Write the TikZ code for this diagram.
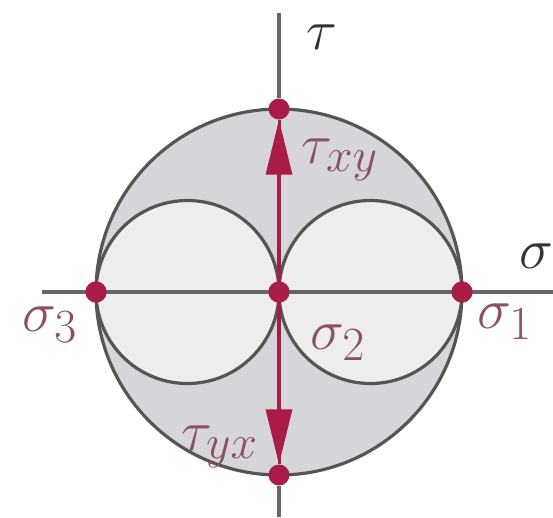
\documentclass[tikz,border=0pt]{standalone}
\usetikzlibrary{arrows.meta}
\definecolor{mred}{HTML}{A81C45}
\definecolor{mlab}{HTML}{8C5065}
\definecolor{bigfill}{HTML}{D6D6DA}
\definecolor{smallfill}{HTML}{EDEDED}
\definecolor{edgegray}{HTML}{555555}
\begin{document}
\begin{tikzpicture}[x=1pt,y=-1pt,
  dotnode/.style={circle,fill=mred,inner sep=0pt,minimum size=21pt},
  redlab/.style={text=mlab,font=\Huge,scale=2.3,inner sep=1pt},
  axlab/.style={text=black!80,font=\Huge,scale=2.3,inner sep=1pt},
  outline/.style={draw=edgegray,line width=3.2pt},
  axisline/.style={draw=gray!80!black,line width=3.2pt},
  redarrow/.style={draw=mred,line width=3.4pt,-{Triangle[length=55pt,width=26pt]}}]
\useasboundingbox (0,0) rectangle (553,517);
% circles
\fill[bigfill] (279,292) circle (183);
\draw[outline] (279,292) circle (183);
\draw[outline,fill=smallfill] (187.5,292) circle (91.5);
\draw[outline,fill=smallfill] (370.5,292) circle (91.5);
% axes
\coordinate (ytop) at (279,13);
\coordinate (ybot) at (279,517);
\coordinate (xl) at (42,292);
\coordinate (xr) at (553,292);
\node[dotnode] (O) at (279,292) {};
\node[dotnode] (T) at (279,109) {};
\node[dotnode] (B) at (279,475) {};
\node[dotnode] (S3) at (96,292) {};
\node[dotnode] (S1) at (462,292) {};
\draw[axisline] (ytop) -- (T);
\draw[axisline] (B) -- (ybot);
\draw[axisline] (xl) -- (xr);
\draw[draw=mred,line width=3pt] (T) -- (B);
\node[dotnode] at (O) {};
\node[dotnode] at (S3) {};
\node[dotnode] at (S1) {};
\draw[redarrow] (O) -- (T);
\draw[redarrow] (O) -- (B);
% labels
\node[axlab] (tau) at (322,37) {$\tau$};
\node[axlab] (sig) at (536,256) {$\sigma$};
\node[redlab] (l1) at (505,322) {$\sigma_1$};
\node[redlab] (l2) at (338,343) {$\sigma_2$};
\node[redlab] (l3) at (50,325) {$\sigma_3$};
\node[redlab] (txy) at (340,160) {$\tau_{xy}$};
\node[redlab] (tyx) at (220,447) {$\tau_{yx}$};
\end{tikzpicture}
\end{document}
